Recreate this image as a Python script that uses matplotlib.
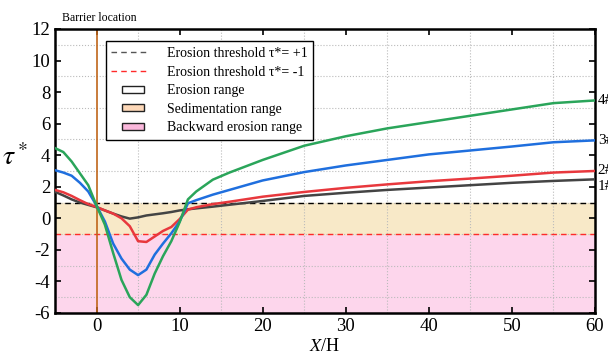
import numpy as np
import matplotlib
matplotlib.use('Agg')
import matplotlib.pyplot as plt
from matplotlib.lines import Line2D
from matplotlib.patches import Rectangle
from matplotlib.legend_handler import HandlerPatch

plt.rcParams['font.family'] = ['Liberation Serif', 'DejaVu Serif']
plt.rcParams['mathtext.fontset'] = 'stix'
plt.rcParams['axes.unicode_minus'] = False

# X/H positions and tau* values
xs = [-5, -4, -3, -2, -1, 0, 1, 2, 3, 4, 5, 6, 7, 8, 9, 10, 11, 12, 14, 16,
      20, 25, 30, 35, 40, 45, 50, 55, 60]
tau_1 = [1.68, 1.45, 1.2, 1.0, 0.85, 0.7, 0.5, 0.3, 0.12, -0.02, 0.06, 0.18, 0.25, 0.32,
         0.4, 0.5, 0.57, 0.63, 0.74, 0.86, 1.1, 1.42, 1.62, 1.8, 1.95, 2.1, 2.25, 2.37, 2.47]
tau_2 = [1.8, 1.65, 1.42, 1.15, 0.9, 0.72, 0.5, 0.3, 0.0, -0.5, -1.45, -1.5, -1.15, -0.8,
         -0.55, -0.05, 0.55, 0.7, 0.9, 1.05, 1.37, 1.67, 1.93, 2.15, 2.35, 2.52, 2.7, 2.9, 3.0]
tau_3 = [3.05, 2.9, 2.7, 2.25, 1.7, 0.8, -0.2, -1.6, -2.55, -3.25, -3.6, -3.25, -2.3, -1.6,
         -0.95, -0.2, 0.95, 1.15, 1.5, 1.8, 2.4, 2.93, 3.35, 3.7, 4.05, 4.3, 4.55, 4.82, 4.94]
tau_4 = [4.45, 4.2, 3.6, 2.85, 2.1, 0.8, -0.4, -2.2, -3.9, -5.0, -5.5, -4.85, -3.5, -2.4,
         -1.45, -0.25, 1.2, 1.7, 2.45, 2.9, 3.7, 4.6, 5.2, 5.7, 6.1, 6.5, 6.9, 7.3, 7.47]
labels = ['1#', '2#', '3#', '4#']
colors = ['#444444', '#e8383d', '#1f6fde', '#2aa55a']
label_dy = [-5, 0, 0, 0]


class SmallBox(HandlerPatch):
    def create_artists(self, legend, orig_handle, xdescent, ydescent, width, height, fontsize, trans):
        w, h = width * 0.62, height * 0.75
        p = Rectangle((-xdescent + (width - w) / 2 + 3, -ydescent + (height - h) / 2), w, h,
                      facecolor=orig_handle.get_facecolor(), edgecolor='#222222', lw=1.0,
                      transform=trans)
        return [p]


fig = plt.figure(figsize=(6.08, 3.6), dpi=100)
ax = fig.add_axes([0.0905, 0.1306, 0.888, 0.7889])

ax.axhspan(-6, -1, color='#fdd6ec', zorder=0)
ax.axhspan(-1, 1, color='#f8e9c8', zorder=0)
ax.axhline(1, color='black', ls=(0, (4, 3)), lw=1.0, zorder=2)
ax.axhline(-1, color='#ff2a2a', ls=(0, (4, 3)), lw=1.0, zorder=2)
ax.axvline(0, color='#c0661a', lw=1.2, zorder=2)

for ys, lab, c, dy in zip([tau_1, tau_2, tau_3, tau_4], labels, colors, label_dy):
    ax.plot(xs, ys, color=c, lw=1.8, zorder=3)
    ax.annotate(lab, (xs[-1], ys[-1]), xytext=(2, dy), textcoords='offset points',
                fontsize=11, va='center', ha='left', annotation_clip=False)

ax.set_xlim(-5, 60)
ax.set_ylim(-6, 12)
ax.set_xticks(np.arange(0, 61, 10))
ax.set_xticks(np.arange(5, 60, 10), minor=True)
ax.set_yticks(np.arange(-6, 13, 2))
ax.set_yticks(np.arange(-5, 12, 2), minor=True)
ax.grid(which='minor', color='#bbbbbb', ls=':', lw=0.8)
ax.tick_params(which='both', direction='in', top=True, right=True, labelsize=13.5)
ax.tick_params(which='minor', length=0)
ax.tick_params(which='major', length=4, width=1.2)
for s in ax.spines.values():
    s.set_linewidth(1.8)

ax.set_xlabel(r'$X$/H', fontsize=13, labelpad=2)
ax.set_ylabel(r'$\tau^*$', fontsize=20, rotation=0, labelpad=12)
fig.text(62 / 608, 1 - 18 / 360, 'Barrier location', fontsize=8.5, va='center', ha='left')

handles = [
    Line2D([], [], color='#555555', ls=(0, (4, 3)), lw=1.0),
    Line2D([], [], color='#ff2a2a', ls=(0, (4, 3)), lw=1.0),
    Rectangle((0, 0), 1, 1, facecolor='white'),
    Rectangle((0, 0), 1, 1, facecolor='#fdd8b8'),
    Rectangle((0, 0), 1, 1, facecolor='#fbb8dc'),
]
names = ['Erosion threshold τ*= +1', 'Erosion threshold τ*= -1', 'Erosion range',
         'Sedimentation range', 'Backward erosion range']
leg = ax.legend(handles, names, loc='upper left', bbox_to_anchor=(0.094, 0.956),
                fontsize=10, frameon=True, fancybox=False, framealpha=1,
                edgecolor='black', borderaxespad=0, handlelength=2.5, handletextpad=1.5,
                labelspacing=0.4, handler_map={Rectangle: SmallBox()})
leg.get_frame().set_linewidth(1.0)

fig.savefig('out.png', dpi=100)
